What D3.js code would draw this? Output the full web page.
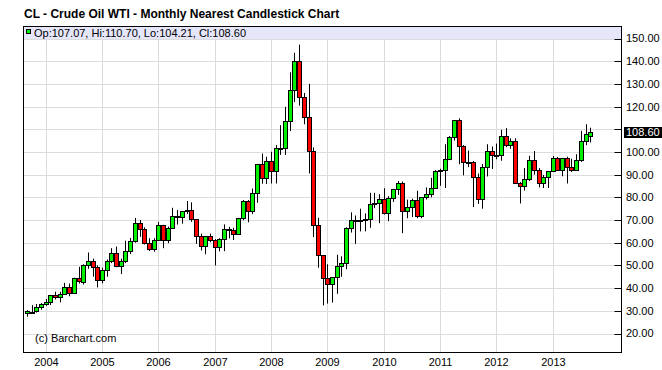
<!DOCTYPE html>
<html><head><meta charset="utf-8">
<script src="https://cdn.jsdelivr.net/npm/d3@7"></script>
<style>body{margin:0;background:#fff}svg{display:block}</style>
</head><body>
<svg id="chart" width="662" height="370"></svg>
<script>
// ---- data (monthly, Sep 2003 .. Sep 2013) ----
const startMonth = new Date(2003, 8, 1);
const endMonth = new Date(2013, 9, 1);
const months = d3.timeMonth.range(startMonth, endMonth);

const openVals = [
 29.2,29.6,29.8,31.6,
 33.1,33.8,36.9,36.2,37.6,40.6,37.9,44.4,42.9,50.0,51.8,49.1,
 43.5,48.2,51.8,55.4,49.7,52.0,56.5,60.6,68.9,66.2,59.8,57.3,
 61.0,67.9,61.4,66.6,71.9,71.3,73.9,74.4,70.3,62.9,58.7,63.0,
 61.1,58.1,61.8,65.9,65.7,64.0,70.7,78.2,74.0,81.7,94.5,88.7,
 96.0,91.8,101.8,101.6,113.5,127.4,140.0,124.1,115.5,100.6,67.8,54.4,
 44.6,41.7,44.8,49.7,51.1,66.3,69.9,69.5,70.0,70.6,77.0,77.3,
 79.4,72.9,79.7,83.8,86.2,74.0,75.6,79.0,71.9,80.0,81.4,84.1,
 91.4,92.2,97.0,106.7,113.9,102.7,95.4,95.7,88.8,79.2,93.2,100.4,
 98.8,98.5,107.1,103.0,104.9,86.5,85.0,88.1,96.5,92.2,86.2,88.9,
 91.8,97.5,92.1,97.2,93.5,92.0,96.6,105.0,107.07
];
const highVals = [
 30.3,32.5,33.0,33.4,
 35.2,37.0,38.4,38.4,42.3,42.0,44.6,49.4,50.5,55.7,53.0,50.0,
 49.0,52.6,57.6,58.3,53.0,60.9,62.1,70.9,70.0,66.8,62.0,62.0,
 69.2,67.9,67.1,75.4,74.4,74.0,78.4,77.8,70.4,64.0,62.3,64.0,
 61.6,62.0,68.1,67.0,66.6,70.8,78.8,78.8,83.9,94.7,99.3,97.9,
 100.1,103.0,111.8,119.9,135.1,143.7,147.3,126.0,130.0,102.0,71.0,54.5,
 50.5,43.8,54.7,54.0,66.8,73.4,72.0,75.0,72.9,82.0,82.0,81.4,
 84.0,80.5,83.2,87.2,87.0,79.0,79.4,82.9,80.0,84.4,88.6,92.0,
 92.6,103.4,107.0,113.9,114.8,103.0,100.6,96.0,90.5,94.7,103.4,102.4,
 103.7,109.8,110.5,106.0,106.0,86.8,92.9,98.3,100.4,92.9,89.9,91.0,
 98.2,97.8,97.4,97.9,97.0,99.0,109.3,112.2,110.70
];
const lowVals = [
 27.4,28.7,29.2,30.5,
 32.2,32.5,35.0,33.7,37.3,36.4,37.5,42.0,41.6,48.5,45.0,40.3,
 42.1,45.0,51.0,49.2,46.2,51.0,55.0,60.0,62.6,59.2,56.3,56.0,
 60.8,57.6,59.8,66.5,68.0,68.4,72.6,69.2,59.5,56.6,54.9,60.2,
 50.0,56.2,56.3,61.9,61.2,63.8,69.9,69.0,72.6,77.6,86.0,85.9,
 86.1,86.1,98.7,98.7,109.2,122.0,120.4,112.2,90.5,62.5,49.0,32.4,
 33.2,33.6,37.5,45.0,48.3,64.5,59.5,65.0,65.0,66.6,75.2,68.6,
 72.4,69.5,78.0,81.1,64.2,70.8,71.3,70.8,70.8,79.0,80.0,84.0,
 85.1,84.1,96.4,105.0,94.6,89.7,93.3,75.7,77.1,75.0,89.2,92.5,
 96.8,96.1,102.1,101.4,86.2,77.3,83.0,87.2,90.0,84.4,84.1,84.1,
 91.5,92.0,89.3,86.1,91.2,91.8,95.6,103.0,104.21
];
const closeVals = [
 29.8,29.4,31.6,33.1,
 33.8,36.9,36.2,37.6,40.4,37.9,44.4,43.2,50.0,51.8,49.1,43.5,
 48.2,51.8,55.4,49.7,52.0,56.5,60.6,68.9,66.2,59.8,57.3,61.0,
 67.9,61.4,66.6,71.9,71.3,73.9,74.4,70.3,62.9,58.7,63.0,61.1,
 58.1,61.8,65.9,65.7,64.0,70.7,78.2,74.0,81.7,94.5,88.7,96.0,
 91.8,101.8,101.6,113.5,127.4,140.0,124.1,115.5,100.6,67.8,54.4,44.6,
 41.7,44.8,49.7,51.1,66.3,69.9,69.5,70.0,70.6,77.0,77.3,79.4,
 72.9,79.7,83.8,86.2,74.0,75.6,79.0,71.9,80.0,81.4,84.1,91.4,
 92.2,97.0,106.7,113.9,102.7,95.4,95.7,88.8,79.2,93.2,100.4,98.8,
 98.5,107.1,103.0,104.9,86.5,85.0,88.1,96.5,92.2,86.2,88.9,91.8,
 97.5,92.1,97.2,93.5,92.0,96.6,105.0,107.7,108.60
];
const yTicks = [20,30,40,50,60,70,80,90,100,110,120,130,140,150];
const yearLabels = ["2004","2005","2006","2007","2008","2009","2010","2011","2012","2013"];
const lastPrice = 108.60;
const titleText = "CL - Crude Oil WTI - Monthly Nearest Candlestick Chart";
const legendText = "Op:107.07, Hi:110.70, Lo:104.21, Cl:108.60";
const creditText = "(c) Barchart.com";

// ---- layout ----
const W = 662, H = 370;
const plot = {left: 23.5, right: 621.5, top: 26.5, bottom: 352.5};
const FONT = "Arial, 'Liberation Sans', sans-serif";
const GREEN = "#00f000", RED = "#ff0000", GRID = "#dcdcdc";

const svg = d3.select("#chart");
const data = months.map((m, i) => ({m, i, o: openVals[i], h: highVals[i], l: lowVals[i], c: closeVals[i]}));

const x = d3.scaleLinear().domain([0, months.length - 1]).range([26.9, 590.2]);
const y = d3.scaleLinear().domain([20, 150]).range([333.5, 38.5]);

// title
svg.append("text").attr("x", 24).attr("y", 18)
  .attr("font-family", FONT).attr("font-size", 12).attr("font-weight", "bold")
  .attr("fill", "#000").text(titleText);

// legend band
svg.append("rect").attr("x", plot.left).attr("y", plot.top)
  .attr("width", plot.right - plot.left).attr("height", 13)
  .attr("fill", "#e6e6fa");

// horizontal grid
const gy = svg.append("g");
gy.selectAll("line").data(yTicks).join("line")
  .attr("x1", plot.left).attr("x2", plot.right)
  .attr("y1", d => Math.round(y(d)) + 0.5).attr("y2", d => Math.round(y(d)) + 0.5)
  .attr("stroke", GRID).attr("stroke-width", 1);

// vertical grid at January
const janIdx = data.filter(d => d.m.getMonth() === 0).map(d => d.i);
const gx = svg.append("g");
gx.selectAll("line").data(janIdx).join("line")
  .attr("x1", d => Math.round(x(d)) + 0.5).attr("x2", d => Math.round(x(d)) + 0.5)
  .attr("y1", plot.top + 13).attr("y2", plot.bottom)
  .attr("stroke", GRID).attr("stroke-width", 1);

// year labels
svg.append("g").selectAll("text").data(janIdx).join("text")
  .attr("x", d => Math.round(x(d)) + 0.5).attr("y", 366)
  .attr("text-anchor", "middle")
  .attr("font-family", FONT).attr("font-size", 11).attr("fill", "#000")
  .text((d, k) => yearLabels[k]);

// credit
svg.append("text").attr("x", 35).attr("y", 342)
  .attr("font-family", FONT).attr("font-size", 11).attr("fill", "#000")
  .text(creditText);

// candles
const cg = svg.append("g");
const cand = cg.selectAll("g").data(data).join("g");
cand.append("line")
  .attr("x1", d => Math.round(x(d.i)) + 0.5).attr("x2", d => Math.round(x(d.i)) + 0.5)
  .attr("y1", d => y(d.h)).attr("y2", d => y(d.l))
  .attr("stroke", "#000").attr("stroke-width", 1);
cand.append("rect")
  .attr("x", d => Math.round(x(d.i)) - 2 + 0.5)
  .attr("width", 4)
  .attr("y", d => Math.round(y(Math.max(d.o, d.c))) + 0.5)
  .attr("height", d => Math.max(1, Math.round(y(Math.min(d.o, d.c))) - Math.round(y(Math.max(d.o, d.c)))))
  .attr("fill", d => d.c >= d.o ? GREEN : RED)
  .attr("stroke", "#000").attr("stroke-width", 1);

// frame
svg.append("rect").attr("x", plot.left).attr("y", plot.top)
  .attr("width", plot.right - plot.left).attr("height", plot.bottom - plot.top)
  .attr("fill", "none").attr("stroke", "#000").attr("stroke-width", 1);

// legend
svg.append("rect").attr("x", 26.5).attr("y", 29.5).attr("width", 4).attr("height", 4)
  .attr("fill", GREEN).attr("stroke", "#000");
svg.append("text").attr("x", 34).attr("y", 37)
  .attr("font-family", FONT).attr("font-size", 11).attr("fill", "#000")
  .text(legendText);

// right axis
const ax = svg.append("g");
ax.selectAll("line").data(yTicks).join("line")
  .attr("x1", plot.right - 7).attr("x2", plot.right)
  .attr("y1", d => Math.round(y(d)) + 0.5).attr("y2", d => Math.round(y(d)) + 0.5)
  .attr("stroke", "#000");
const boxY = y(lastPrice);
ax.selectAll("text").data(yTicks.filter(t => Math.abs(y(t) - boxY) > 8)).join("text")
  .attr("x", 626).attr("y", d => y(d)).attr("dy", "0.36em")
  .attr("font-family", FONT).attr("font-size", 11).attr("fill", "#000")
  .text(d => d3.format(".2f")(d));
ax.append("rect").attr("x", 624).attr("y", Math.round(boxY) - 5).attr("width", 38).attr("height", 11)
  .attr("fill", "#000");
ax.append("text").attr("x", 626).attr("y", Math.round(boxY)).attr("dy", "0.36em")
  .attr("font-family", FONT).attr("font-size", 11).attr("fill", "#fff")
  .text(d3.format(".2f")(lastPrice));
</script>
</body></html>
